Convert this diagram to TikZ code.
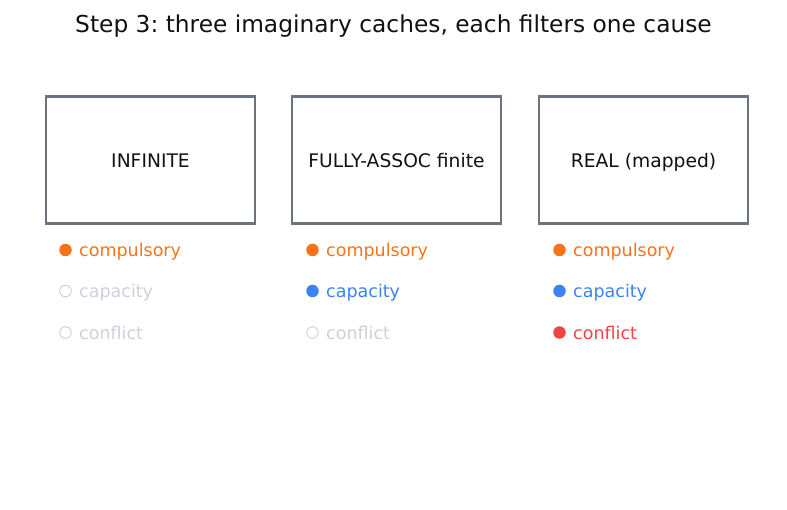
\documentclass[tikz,border=0pt]{standalone}
\usepackage{fontspec}
\setmainfont{DejaVu Sans}
\frenchspacing
\definecolor{boxgray}{HTML}{6B7280}
\definecolor{cOrange}{HTML}{F97316}
\definecolor{cBlue}{HTML}{3B82F6}
\definecolor{cRed}{HTML}{EF4444}
\definecolor{cOff}{HTML}{CBD2DB}
\definecolor{txt}{HTML}{111111}
\begin{document}
\begin{tikzpicture}[x=1pt,y=1pt,
  cache/.style={draw=boxgray, line width=2.4pt, minimum width=209pt, minimum height=127pt, inner sep=0pt},
  ctext/.style={anchor=base, inner sep=0pt, text=txt, font=\fontsize{18.7}{22}\selectfont},
  lab/.style={anchor=base west, inner sep=0pt, font=\fontsize{17.5}{21}\selectfont},
  on/.style={circle, fill=#1, minimum size=12.5pt, inner sep=0pt},
  off/.style={circle, draw=cOff, line width=1pt, minimum size=11.5pt, inner sep=0pt}]
\useasboundingbox (0,0) rectangle (787,-510);
\node[anchor=base, inner sep=0pt, text=txt, font=\fontsize{23.3}{27}\selectfont] (title) at (393.5,-32.5) {Step 3: three imaginary caches, each filters one cause};
\node[cache] (c1) at (150.5,-160) {};
\node[cache] (c2) at (396.5,-160) {};
\node[cache] (c3) at (643.5,-160) {};
\node[ctext] (l1) at (150.5,-167.3) {INFINITE};
\node[ctext] (l2) at (396.5,-167.3) {FULLY-ASSOC finite};
\node[ctext] (l3) at (643.5,-167.3) {REAL (mapped)};
% column 1
\node[on=cOrange] (d11) at (65.5,-250) {};
\node[lab, text=cOrange] (t11) at (79,-257) {compulsory};
\node[off] (d12) at (65.5,-291) {};
\node[lab, text=cOff] (t12) at (79,-298) {capacity};
\node[off] (d13) at (65.5,-332.5) {};
\node[lab, text=cOff] (t13) at (79,-339.5) {conflict};
% column 2
\node[on=cOrange] (d21) at (312.5,-250) {};
\node[lab, text=cOrange] (t21) at (326,-257) {compulsory};
\node[on=cBlue] (d22) at (312.5,-291) {};
\node[lab, text=cBlue] (t22) at (326,-298) {capacity};
\node[off] (d23) at (312.5,-332.5) {};
\node[lab, text=cOff] (t23) at (326,-339.5) {conflict};
% column 3
\node[on=cOrange] (d31) at (559.5,-250) {};
\node[lab, text=cOrange] (t31) at (573,-257) {compulsory};
\node[on=cBlue] (d32) at (559.5,-291) {};
\node[lab, text=cBlue] (t32) at (573,-298) {capacity};
\node[on=cRed] (d33) at (559.5,-332.5) {};
\node[lab, text=cRed] (t33) at (573,-339.5) {conflict};
\end{tikzpicture}
\end{document}
